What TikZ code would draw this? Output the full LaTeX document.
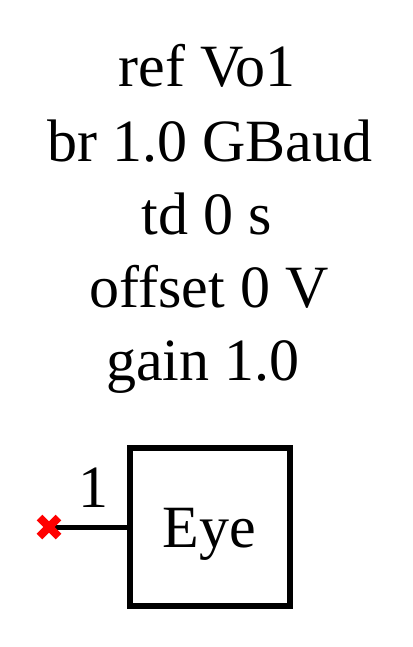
\documentclass[tikz,border=0pt]{standalone}
\usepackage{fontspec}
\setmainfont{Liberation Serif}
\begin{document}
\begin{tikzpicture}[x=1pt,y=-1pt,
  lbl/.style={anchor=base,inner sep=0pt,font=\fontsize{60}{72}\selectfont},
  blk/.style={draw,line width=6pt,minimum width=160pt,minimum height=158pt,inner sep=0pt}]
\useasboundingbox (0,0) rectangle (412,647);
\node[lbl] (t1) at (207,87) {ref Vo1};
\node[lbl] (t2) at (210,161) {br 1.0 GBaud};
\node[lbl] (t3) at (207,234) {td 0 s};
\node[lbl] (t4) at (209,307) {offset 0 V};
\node[lbl] (t5) at (203,380) {gain 1.0};
\node[blk] (box) at (210,527) {};
\node[lbl] (eye) at (209,547) {Eye};
\node[lbl] (pn) at (93,507) {1};
\coordinate (pin) at (49,527);
\draw[line width=5pt] (pin) -- (box.west);
\draw[red,line width=8pt] ([shift={(-9.5,-9.5)}]pin) -- ([shift={(9.5,9.5)}]pin)
  ([shift={(-9.5,9.5)}]pin) -- ([shift={(9.5,-9.5)}]pin);
\end{tikzpicture}
\end{document}
